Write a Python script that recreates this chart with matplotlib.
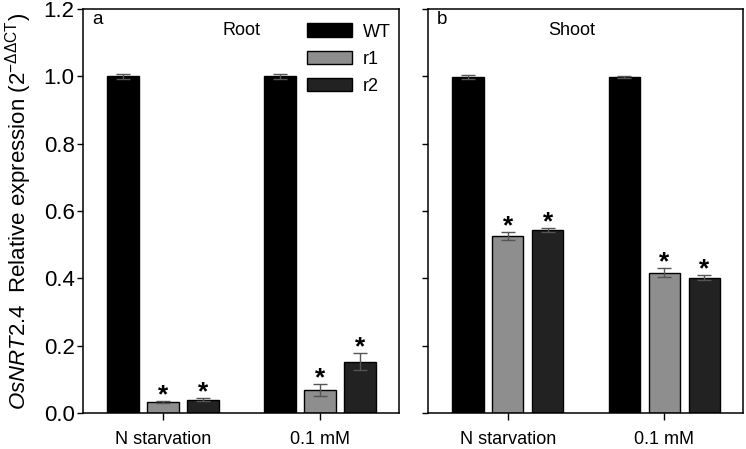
import numpy as np
import matplotlib.pyplot as plt

plt.rcParams['font.family'] = ['Liberation Sans', 'DejaVu Sans']
plt.rcParams['mathtext.fontset'] = 'custom'
plt.rcParams['mathtext.rm'] = 'Liberation Sans'
plt.rcParams['mathtext.it'] = 'Liberation Sans:italic'

groups = ['N starvation', '0.1 mM']
lines = ['WT', 'r1', 'r2']
colors = ['#000000', '#8e8e8e', '#222222']

root_vals = {'WT': [1.0, 1.0], 'r1': [0.033, 0.068], 'r2': [0.040, 0.152]}
root_err = {'WT': [0.007, 0.007], 'r1': [0.003, 0.018], 'r2': [0.005, 0.025]}
shoot_vals = {'WT': [0.998, 0.998], 'r1': [0.525, 0.417], 'r2': [0.543, 0.402]}
shoot_err = {'WT': [0.005, 0.004], 'r1': [0.012, 0.013], 'r2': [0.006, 0.008]}
stars = {'WT': False, 'r1': True, 'r2': True}

fig = plt.figure(figsize=(7.46, 4.49), dpi=100)
W, H = 746, 449
ax1 = fig.add_axes([83 / W, 1 - 413 / H, 316 / W, 404 / H])
ax2 = fig.add_axes([428 / W, 1 - 413 / H, 315 / W, 404 / H])

x = np.arange(len(groups))
offs = [-0.255, 0.0, 0.255]
width = 0.2


def panel(ax, vals, errs, title, letter, tx):
    handles = []
    for i, ln in enumerate(lines):
        v = np.array(vals[ln])
        e = np.array(errs[ln])
        b = ax.bar(x + offs[i], v, width, color=colors[i], edgecolor='black',
                   linewidth=1.0, label=ln, zorder=2)
        handles.append(b)
        ax.errorbar(x + offs[i], v, yerr=e, fmt='none', ecolor='#555555',
                    elinewidth=1.0, capsize=5, capthick=1.0, zorder=3)
        if stars[ln]:
            for xi, vi, ei in zip(x + offs[i], v, e):
                ax.text(xi, vi + ei - 0.004, '*', ha='center', va='baseline',
                        fontsize=19, fontweight='bold')
    ax.set_xlim(-0.51, 1.503)
    ax.set_ylim(0, 1.2)
    ax.set_yticks(np.arange(0, 1.21, 0.2))
    ax.set_xticks(x)
    ax.set_xticklabels(groups)
    ax.tick_params(axis='y', direction='out', length=4.5, width=1.0,
                   labelsize=16, pad=1.5)
    ax.tick_params(axis='x', direction='out', length=5, width=1.0,
                   labelsize=13, pad=8)
    for s in ax.spines.values():
        s.set_linewidth(1.1)
    ax.text(0.028, 0.973, letter, transform=ax.transAxes, ha='left', va='center',
            fontsize=13.5)
    ax.text(tx, 0.948, title, transform=ax.transAxes, ha='center', va='center',
            fontsize=13)
    return handles


h = panel(ax1, root_vals, root_err, 'Root', 'a', 0.503)
ax1.yaxis.set_major_formatter(plt.FormatStrFormatter('%.1f'))
panel(ax2, shoot_vals, shoot_err, 'Shoot', 'b', 0.457)
ax2.set_yticklabels([])

ax1.legend(h, lines, loc='upper right', bbox_to_anchor=(1.02, 1.0),
           frameon=False, fontsize=13, handlelength=2.5, handleheight=0.8,
           labelspacing=0.55, handletextpad=0.6, borderaxespad=0.4)

ax1.set_ylabel(r'$\mathit{OsNRT2.4}$  Relative expression (2$^{-\Delta\Delta\mathrm{CT}}$)',
               fontsize=16, labelpad=7)

fig.savefig('out.png', dpi=100)
